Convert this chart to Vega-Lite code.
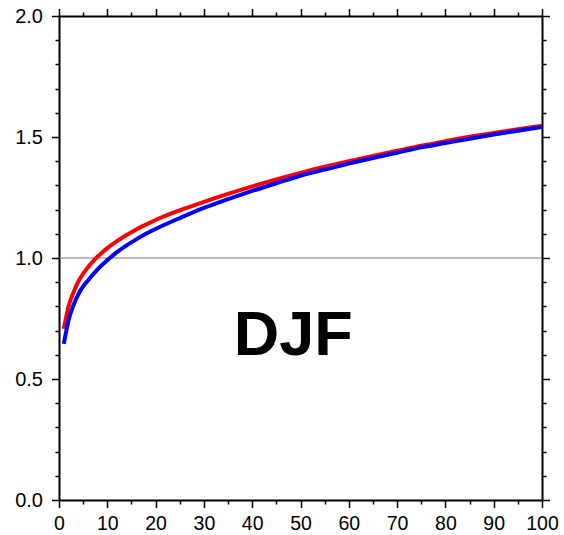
{
  "$schema": "https://vega.github.io/schema/vega-lite/v6.json",
  "width": 483,
  "height": 484,
  "autosize": {"type": "none"},
  "padding": {"left": 59, "top": 16, "right": 22, "bottom": 35},
  "background": "white",
  "config": {
    "view": {"stroke": null},
    "axis": {
      "grid": false,
      "domainColor": "black",
      "domainWidth": 2,
      "tickColor": "black",
      "tickWidth": 1.5,
      "labelFont": "Liberation Sans",
      "labelFontSize": 20,
      "labelColor": "black",
      "labelPadding": 9,
      "labelFlush": false,
      "labelOverlap": false,
      "title": null
    }
  },
  "datasets": {
    "curves": [
      {"series": "red", "x": 1, "y": 0.707},
      {"series": "red", "x": 2, "y": 0.802},
      {"series": "red", "x": 3, "y": 0.858},
      {"series": "red", "x": 4, "y": 0.903},
      {"series": "red", "x": 5, "y": 0.935},
      {"series": "red", "x": 6, "y": 0.962},
      {"series": "red", "x": 7, "y": 0.985},
      {"series": "red", "x": 8, "y": 1.006},
      {"series": "red", "x": 9, "y": 1.024},
      {"series": "red", "x": 10, "y": 1.041},
      {"series": "red", "x": 12, "y": 1.07},
      {"series": "red", "x": 14, "y": 1.095},
      {"series": "red", "x": 16, "y": 1.118},
      {"series": "red", "x": 18, "y": 1.138},
      {"series": "red", "x": 20, "y": 1.157},
      {"series": "red", "x": 25, "y": 1.197},
      {"series": "red", "x": 30, "y": 1.232},
      {"series": "red", "x": 35, "y": 1.265},
      {"series": "red", "x": 40, "y": 1.296},
      {"series": "red", "x": 45, "y": 1.325},
      {"series": "red", "x": 50, "y": 1.352},
      {"series": "red", "x": 55, "y": 1.377},
      {"series": "red", "x": 60, "y": 1.4},
      {"series": "red", "x": 65, "y": 1.422},
      {"series": "red", "x": 70, "y": 1.443},
      {"series": "red", "x": 75, "y": 1.464},
      {"series": "red", "x": 80, "y": 1.483},
      {"series": "red", "x": 85, "y": 1.501},
      {"series": "red", "x": 90, "y": 1.517},
      {"series": "red", "x": 95, "y": 1.532},
      {"series": "red", "x": 100, "y": 1.547},
      {"series": "blue", "x": 1, "y": 0.645},
      {"series": "blue", "x": 2, "y": 0.745},
      {"series": "blue", "x": 3, "y": 0.805},
      {"series": "blue", "x": 4, "y": 0.85},
      {"series": "blue", "x": 5, "y": 0.883},
      {"series": "blue", "x": 6, "y": 0.907},
      {"series": "blue", "x": 7, "y": 0.931},
      {"series": "blue", "x": 8, "y": 0.953},
      {"series": "blue", "x": 9, "y": 0.973},
      {"series": "blue", "x": 10, "y": 0.991},
      {"series": "blue", "x": 12, "y": 1.024},
      {"series": "blue", "x": 14, "y": 1.052},
      {"series": "blue", "x": 16, "y": 1.077},
      {"series": "blue", "x": 18, "y": 1.1},
      {"series": "blue", "x": 20, "y": 1.12},
      {"series": "blue", "x": 25, "y": 1.165},
      {"series": "blue", "x": 30, "y": 1.207},
      {"series": "blue", "x": 35, "y": 1.243},
      {"series": "blue", "x": 40, "y": 1.277},
      {"series": "blue", "x": 45, "y": 1.309},
      {"series": "blue", "x": 50, "y": 1.34},
      {"series": "blue", "x": 55, "y": 1.365},
      {"series": "blue", "x": 60, "y": 1.39},
      {"series": "blue", "x": 65, "y": 1.413},
      {"series": "blue", "x": 70, "y": 1.435},
      {"series": "blue", "x": 75, "y": 1.457},
      {"series": "blue", "x": 80, "y": 1.475},
      {"series": "blue", "x": 85, "y": 1.493},
      {"series": "blue", "x": 90, "y": 1.51},
      {"series": "blue", "x": 95, "y": 1.526},
      {"series": "blue", "x": 100, "y": 1.541}
    ],
    "label": [{"text": "DJF"}]
  },
  "layer": [
    {
      "data": {"name": "label"},
      "mark": {"type": "rule", "color": "#777777", "strokeWidth": 1},
      "encoding": {
        "y": {"datum": 1, "type": "quantitative", "axis": null, "scale": {"domain": [0, 2], "nice": false, "zero": false}}
      }
    },
    {
      "data": {"name": "curves"},
      "transform": [{"filter": "datum.series === 'red'"}],
      "mark": {"type": "line", "color": "#ff0000", "strokeWidth": 4, "interpolate": "monotone", "clip": true},
      "encoding": {
        "x": {
          "field": "x", "type": "quantitative",
          "scale": {"domain": [0, 100], "nice": false, "zero": false},
          "axis": {
            "orient": "bottom",
            "values": [0,5,10,15,20,25,30,35,40,45,50,55,60,65,70,75,80,85,90,95,100],
            "labelExpr": "datum.value % 10 === 0 ? datum.label : ''",
            "labelPadding": 7,
            "labelFontSize": 19.5,
            "tickSize": {"condition": {"test": "datum.value % 10 === 0", "value": 7.5}, "value": 4}
          }
        },
        "y": {
          "field": "y", "type": "quantitative",
          "scale": {"domain": [0, 2], "nice": false, "zero": false},
          "axis": {
            "orient": "left",
            "values": [0,0.1,0.2,0.3,0.4,0.5,0.6,0.7,0.8,0.9,1,1.1,1.2,1.3,1.4,1.5,1.6,1.7,1.8,1.9,2],
            "labelExpr": "round(datum.value*10) % 5 === 0 ? format(datum.value, '.1f') : ''",
            "tickSize": {"condition": {"test": "round(datum.value*10) % 5 === 0", "value": 7.5}, "value": 4}
          }
        }
      }
    },
    {
      "data": {"name": "curves"},
      "transform": [{"filter": "datum.series === 'blue'"}],
      "mark": {"type": "line", "color": "#0000ff", "strokeWidth": 4, "interpolate": "monotone", "clip": true},
      "encoding": {
        "x": {
          "field": "x", "type": "quantitative",
          "scale": {"domain": [0, 100], "nice": false, "zero": false},
          "axis": {
            "orient": "top",
            "values": [0,5,10,15,20,25,30,35,40,45,50,55,60,65,70,75,80,85,90,95,100],
            "labels": false,
            "tickSize": {"condition": {"test": "datum.value % 10 === 0", "value": 7.5}, "value": 4}
          }
        },
        "y": {
          "field": "y", "type": "quantitative",
          "scale": {"domain": [0, 2], "nice": false, "zero": false},
          "axis": {
            "orient": "right",
            "values": [0,0.1,0.2,0.3,0.4,0.5,0.6,0.7,0.8,0.9,1,1.1,1.2,1.3,1.4,1.5,1.6,1.7,1.8,1.9,2],
            "labels": false,
            "tickSize": {"condition": {"test": "round(datum.value*10) % 5 === 0", "value": 7.5}, "value": 4}
          }
        }
      }
    },
    {
      "data": {"name": "label"},
      "mark": {"type": "text", "font": "Liberation Sans", "fontWeight": "bold", "fontSize": 63, "align": "center", "baseline": "alphabetic", "color": "black"},
      "encoding": {
        "x": {"datum": 48.5, "type": "quantitative", "axis": null},
        "y": {"datum": 0.6, "type": "quantitative", "axis": null},
        "text": {"field": "text"}
      }
    }
  ],
  "resolve": {"axis": {"x": "independent", "y": "independent"}}
}
